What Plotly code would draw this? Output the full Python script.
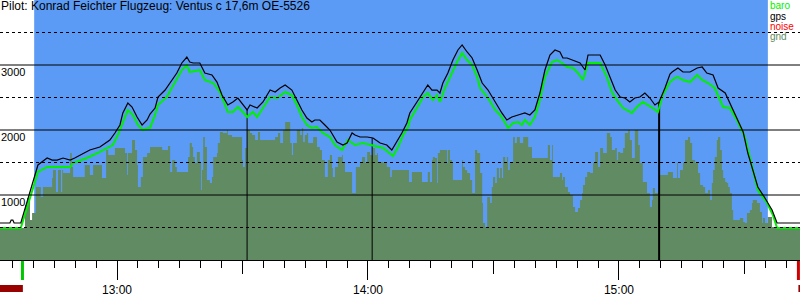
import plotly.graph_objects as go

# ---------------- data (time in minutes after 12:00, altitude in m) ----------------
title_text = "Pilot: Konrad Feichter Flugzeug: Ventus c 17,6m OE-5526"

gps_min = [32.0, 34.4, 34.7, 35.1, 35.4, 37.0, 41.1, 43.3, 44.5, 45.7, 47.1, 48.8, 49.9, 51.2, 53.5, 55.9,
           58.3, 59.5, 60.7, 61.4, 62.6, 63.6, 64.8, 66.0, 67.2, 67.9, 69.1, 69.8, 71.5, 74.3, 75.5, 76.7,
           77.4, 78.2, 79.8, 81.0, 82.7, 83.9, 85.1, 86.5, 87.7, 88.9, 90.1, 91.1, 91.8, 93.5, 94.9, 96.6,
           97.8, 99.0, 100.2, 101.8, 103.0, 104.2, 105.4, 106.6, 107.3, 108.5, 109.7, 110.9, 112.6, 114.0,
           115.0, 116.2, 116.9, 118.1, 119.8, 121.2, 122.9, 124.5, 125.7, 126.9, 128.1, 129.3, 130.0, 131.7,
           133.2, 134.3, 135.3, 136.5, 137.2, 137.9, 139.1, 140.3, 141.5, 142.5, 143.7, 144.9, 146.1, 147.3,
           148.7, 150.4, 152.0, 153.2, 154.4, 155.9, 157.5, 158.7, 159.9, 161.1, 162.3, 163.5, 164.7, 165.9,
           166.6, 167.6, 168.8, 170.0, 170.7, 171.9, 172.6, 173.8, 175.5, 176.7, 177.9, 179.1, 180.3, 181.4,
           182.6, 183.8, 185.0, 186.2, 187.4, 188.6, 189.6, 191.0, 192.2, 192.7, 194.1, 195.3, 197.0, 198.7,
           199.9, 201.0, 202.5, 203.7, 205.4, 207.0, 208.5, 209.7, 210.8, 212.0, 213.2, 214.9, 216.6, 217.8,
           223.3]
gps_alt = [569, 569, 615, 615, 569, 569, 1462, 1569, 1538, 1538, 1569, 1538, 1569, 1615, 1692, 1738,
           1846, 1954, 2077, 2262, 2415, 2354, 2200, 2077, 2154, 2246, 2338, 2508, 2615, 2877, 3031, 3123,
           3046, 3031, 3031, 2877, 2846, 2738, 2538, 2385, 2431, 2492, 2385, 2308, 2385, 2338, 2431, 2615,
           2585, 2646, 2692, 2615, 2462, 2308, 2185, 2123, 2154, 2154, 2077, 2000, 1815, 1769,
           1800, 1954, 1923, 1892, 1892, 1877, 1800, 1769, 1692, 1815, 1954, 2108, 2262, 2431,
           2585, 2692, 2615, 2615, 2569, 2723, 2877, 3077, 3231, 3308, 3200, 3108, 2923, 2723,
           2615, 2431, 2262, 2154, 2200, 2231, 2262, 2231, 2308, 2569, 2923, 3154, 3231, 3200,
           3108, 3108, 3077, 3046, 3031, 2923, 3154, 3154, 3154, 3000, 2800, 2615, 2508, 2492,
           2431, 2492, 2508, 2569, 2492, 2385, 2431, 2646, 2862, 2892, 2954, 2892, 2892, 2954,
           2969, 2877, 2846, 2646, 2569, 2354, 2154, 1969, 1646, 1385, 1123, 954, 769, 569,
           569]

baro_min = [32.0, 37.0, 41.1, 43.3, 45.7, 48.8, 49.5, 52.8, 55.9, 59.0, 60.2, 61.4, 62.6, 63.8, 65.0, 66.2,
            67.4, 67.9, 69.1, 69.8, 71.9, 75.5, 76.7, 77.4, 79.8, 81.0, 83.0, 84.6, 86.5, 87.7, 88.9, 90.1,
            91.1, 92.5, 93.5, 94.9, 96.6, 98.3, 100.2, 101.8, 103.0, 104.2, 105.4, 106.6, 107.8, 109.2,
            110.9, 112.1, 113.8, 115.2, 116.9, 118.8, 120.5, 122.2, 123.6, 124.8, 126.0, 127.2, 128.4,
            129.6, 130.0, 131.7, 133.2, 134.3, 135.5, 136.5, 137.2, 138.4, 139.6, 141.3, 142.5, 143.7,
            144.9, 146.1, 146.8, 148.7, 150.4, 151.6, 152.8, 153.5, 154.7, 155.9, 156.8, 157.5, 158.7,
            159.9, 161.1, 162.3, 164.0, 165.2, 166.4, 167.6, 169.0, 170.2, 171.4, 172.6, 173.8, 175.5,
            177.1, 178.3, 179.5, 181.0, 183.1, 184.3, 185.7, 186.9, 188.1, 189.3, 190.5, 192.2, 193.4,
            194.1, 195.3, 197.0, 198.7, 199.9, 201.3, 202.9, 204.9, 206.5, 208.2, 210.1, 211.8, 213.2,
            215.4, 216.8, 217.8, 223.3]
baro_alt = [492, 492, 1354, 1431, 1431, 1431, 1492, 1569, 1662, 1769, 1923, 2123, 2308, 2231, 2077, 2000,
            2031, 2031, 2231, 2385, 2508, 2923, 3000, 2892, 2923, 2769, 2723, 2585, 2277, 2277, 2354, 2277,
            2200, 2277, 2200, 2338, 2508, 2492, 2585, 2538, 2385, 2200, 2077, 2031, 2046, 1954,
            1892, 1769, 1692, 1846, 1769, 1800, 1769, 1738, 1723, 1662, 1600, 1738, 1923,
            2046, 2154, 2338, 2508, 2569, 2462, 2538, 2431, 2646, 2815, 3046, 3185, 3077,
            3000, 2815, 2646, 2492, 2308, 2231, 2108, 2031, 2108, 2123, 2077, 2154, 2077,
            2200, 2462, 2815, 3046, 3077, 3031, 2969, 2954, 2877, 2769, 3031, 3031, 3031,
            2815, 2585, 2462, 2338, 2262, 2354, 2431, 2385, 2338, 2277, 2538, 2738, 2800,
            2815, 2769, 2738, 2846, 2769, 2723, 2646, 2354, 2338, 2154, 1892, 1431, 1077,
            877, 692, 492, 492]

gnd_min = [32.0, 38.0, 38.5, 39.2, 39.7, 40.6, 41.8, 42.3, 44.5, 44.7, 45.4, 45.9, 46.6, 46.9, 47.1, 48.8,
           49.2, 49.5, 52.3, 53.5, 54.3, 56.4, 57.4, 57.9, 59.5, 61.9, 62.4, 62.6, 63.6, 64.3, 64.8, 65.0,
           65.7, 66.2, 67.2, 67.9, 70.8, 72.2, 72.7, 73.2, 73.9, 74.3, 77.0, 77.4, 77.9, 78.2, 78.6, 79.1,
           79.8, 80.1, 80.3, 80.6, 81.0, 81.5, 82.2, 82.7, 83.0, 83.9, 84.1, 84.6, 85.3, 86.3, 86.5, 87.5,
           89.9, 90.1, 90.6, 91.1, 91.8, 92.3, 93.0, 93.7, 94.2, 97.8, 98.5, 99.0, 99.7, 100.2, 101.4,
           101.8, 102.1, 103.0, 103.8, 104.2, 104.5, 104.9, 105.4, 105.7, 106.9, 107.8, 108.5, 109.0,
           109.7, 110.4, 110.9, 111.4, 111.6, 112.1, 112.8, 113.8, 114.0, 114.5, 116.2, 117.1, 118.1,
           118.6, 119.3, 119.8, 120.5, 121.2, 121.7, 122.2, 122.4, 123.6, 124.5, 125.3, 125.7, 129.8,
           130.5, 132.9, 134.3, 134.8, 135.3, 135.5, 136.0, 136.5, 136.7, 137.2, 138.9, 139.1, 139.6,
           140.1, 140.3, 142.5, 142.7, 143.2, 143.7, 144.4, 144.9, 145.6, 146.1, 146.8, 147.3, 147.5,
           148.0, 148.5, 149.2, 149.6, 149.9, 150.4, 150.8, 151.3, 151.6, 152.0, 152.3, 152.8, 153.2,
           153.5, 153.9, 154.7, 155.1, 155.6, 156.3, 157.1, 158.3, 159.2, 163.0, 163.5, 164.0, 164.2,
           165.9, 166.4, 166.6, 167.1, 167.8, 168.3, 169.0, 169.5, 170.2, 170.7, 171.2, 171.4, 171.9,
           172.4, 173.1, 173.8, 174.3, 175.0, 175.5, 176.2, 177.1, 177.9, 178.3, 179.1, 179.5, 179.8,
           180.3, 181.0, 181.4, 182.2, 182.6, 183.1, 183.8, 184.6, 185.0, 185.7, 186.7, 187.4, 187.9,
           188.1, 188.6, 189.6, 189.8, 191.7, 192.9, 193.9, 194.1, 194.6, 195.3, 195.8, 196.5, 197.0,
           197.5, 198.2, 198.9, 199.4, 200.1, 200.6, 201.3, 201.8, 202.2, 202.5, 202.9, 203.4, 203.7,
           204.2, 204.6, 204.9, 205.4, 205.8, 206.1, 206.5, 207.0, 207.3, 208.9, 209.7, 210.1, 210.6,
           211.3, 211.8, 212.0, 213.0, 213.7, 214.2, 214.4, 214.9, 215.6, 216.6, 217.3, 223.3]
gnd_alt = [492, 846, 954, 615, 723, 1123, 969, 1123, 1262, 1385, 1046, 1385, 1046, 1385, 1338, 1646,
           1431, 1277, 1462, 1308, 1462, 1262, 1692, 1615, 1723, 1646, 1308, 1646, 1846, 1692, 1462, 1123,
           1277, 1585, 1646, 1738, 1692, 1754, 1354, 1538, 1431, 1354, 1585, 1800, 1738, 1585, 1492, 1662,
           1492, 1077, 1385, 1892, 1738, 1231, 1185, 1277, 1585, 1646, 1800, 1969, 1954, 2000, 1923, 1892,
           1538, 1431, 1723, 2000, 1954, 1923, 1846, 1969, 1846, 1892, 1954, 1800, 2000, 2123, 1800,
           1615, 1800, 2000, 1923, 2031, 1815, 1923, 1954, 1800, 1892, 1738, 1692, 1538,
           1277, 1538, 1615, 1415, 1277, 1431, 1585, 1615, 1492, 1354, 1031, 1431, 1492,
           1585, 1492, 1662, 1615, 1723, 1615, 1646, 1508, 1492, 1431, 1277, 1385, 1200,
           1354, 1200, 1354, 1200, 1538, 1585, 1569, 1185, 1646, 1692, 1492, 1692, 1538,
           1492, 1231, 1538, 1431, 1385, 1338, 1231, 1031, 1692, 1646, 1338, 877, 569,
           508, 969, 877, 1123, 1277, 1185, 1415, 1262, 1415, 1262, 1585, 1492, 1585,
           1385, 1492, 1892, 1800, 1892, 1800, 1892, 1738, 1569, 1769, 1538, 1769, 1277,
           1338, 1231, 1277, 1123, 1046, 1000, 815, 738, 800, 923, 1031, 1154, 1277,
           1354, 1338, 1492, 1662, 1431, 1723, 1646, 1954, 1892, 1692, 1723, 1538, 1662,
           1646, 1723, 1954, 2000, 1846, 1569, 2000, 1769, 1492, 1200, 1031, 815, 923,
           1108, 1031, 1354, 1308, 1354, 1262, 1492, 1262, 1385, 1492, 1846, 1892, 1800,
           1538, 1492, 1338, 1154, 1123, 1031, 1077, 923, 1185, 1385, 1585, 1846, 1892,
           1692, 1385, 1262, 1200, 1185, 1123, 1031, 769, 615, 646, 585, 569, 723,
           769, 877, 923, 877, 738, 569, 646, 569, 662, 508, 492, 492]

mark_min = [91.1, 121.0, 189.6]       # vertical markers
mark_alt = [2308, 1877, 2431]

flight_window = [40.2, 215.6]         # shaded (blue) period
takeoff_min = 37.4
landing_min = 222.9
noise_bars = [[32.0, 37.5], [222.9, 223.3]]

hour_ticks = [60, 120, 180]
hour_labels = ["13:00", "14:00", "15:00"]
half_hour_ticks = [90, 150, 210]
grid_major = [1000, 2000, 3000]
grid_minor = [500, 1500, 2500, 3500]
legend_names = ["baro", "gps", "noise", "gnd"]

# ---------------- styles ----------------
FONT = "Liberation Sans, Arial, sans-serif"
BLUE = "#5b9bf5"
GND = "#618b62"
BARO = "#00f000"
legend_colors = ["#00f000", "#000000", "#ff0000", "#618b62"]
legend_centers = [5.5, 17, 27, 37]
mark_widths = [1, 1, 2]
XR = [32.03, 223.28]
PLOT_H = 260.0

fig = go.Figure()

fig.add_trace(go.Scatter(x=gnd_min, y=gnd_alt, mode="lines", line=dict(width=0, shape="hv"),
                         fill="tozeroy", fillcolor=GND, hoverinfo="skip", showlegend=False))
for t, a, w in zip(mark_min, mark_alt, mark_widths):
    fig.add_trace(go.Scatter(x=[t, t], y=[0, a], mode="lines", line=dict(color="black", width=w),
                             hoverinfo="skip", showlegend=False))
fig.add_trace(go.Scatter(x=baro_min, y=baro_alt, mode="lines", line=dict(color=BARO, width=2),
                         showlegend=False))
fig.add_trace(go.Scatter(x=gps_min, y=gps_alt, mode="lines", line=dict(color="black", width=1.2),
                         showlegend=False))
# helper traces so overlay tick axes are drawn
fig.add_trace(go.Scatter(x=XR, y=[0, 0], xaxis="x2", mode="lines", line=dict(width=0),
                         hoverinfo="skip", showlegend=False))
fig.add_trace(go.Scatter(x=XR, y=[0, 0], xaxis="x3", mode="lines", line=dict(width=0),
                         hoverinfo="skip", showlegend=False))

shapes = [dict(type="rect", xref="x", yref="paper", x0=flight_window[0], x1=flight_window[1],
               y0=0, y1=1, fillcolor=BLUE, line=dict(width=0), layer="below")]
for v in grid_major:
    shapes.append(dict(type="line", xref="paper", yref="y", x0=0, x1=1, y0=v, y1=v,
                       line=dict(color="black", width=1), layer="above"))
for v in grid_minor:
    shapes.append(dict(type="line", xref="paper", yref="y", x0=0, x1=1, y0=v, y1=v,
                       line=dict(color="black", width=1, dash="3px,3px"), layer="above"))
shapes.append(dict(type="line", xref="x", yref="paper", x0=takeoff_min, x1=takeoff_min,
                   y0=-1 / PLOT_H, y1=-20 / PLOT_H, line=dict(color="#00c800", width=3)))
shapes.append(dict(type="line", xref="x", yref="paper", x0=landing_min, x1=landing_min,
                   y0=-1 / PLOT_H, y1=-20 / PLOT_H, line=dict(color="#d00000", width=3)))
for a, b in noise_bars:
    shapes.append(dict(type="rect", xref="x", yref="paper", x0=a, x1=b,
                       y0=-25 / PLOT_H, y1=-32 / PLOT_H, fillcolor="#990000", line=dict(width=0)))

annotations = [dict(text=title_text, xref="paper", yref="paper", x=0, y=1 - 6 / PLOT_H,
                    xanchor="left", yanchor="middle", showarrow=False,
                    font=dict(family=FONT, size=12, color="black"), borderpad=0)]
for name, col, c in zip(legend_names, legend_colors, legend_centers):
    annotations.append(dict(text=name, xref="paper", yref="paper", x=769 / 800, y=1 - c / PLOT_H,
                            xanchor="left", yanchor="middle", showarrow=False,
                            font=dict(family=FONT, size=10, color=col), borderpad=0))
for v in grid_major:
    annotations.append(dict(text=str(v), xref="paper", yref="y", x=0, y=v, xanchor="left",
                            yanchor="middle", yshift=-7, showarrow=False, borderpad=0,
                            font=dict(family=FONT, size=11, color="black")))

axis_common = dict(range=XR, showgrid=False, zeroline=False, fixedrange=True)
fig.update_layout(
    width=800, height=300, margin=dict(l=0, r=0, t=0, b=40),
    paper_bgcolor="white", plot_bgcolor="white", showlegend=False,
    xaxis=dict(**axis_common, tickmode="array", tickvals=hour_ticks, ticktext=hour_labels,
               ticks="outside", ticklen=19, tickwidth=1, tickcolor="black",
               showline=True, linecolor="black", linewidth=1,
               tickfont=dict(family=FONT, size=12, color="black")),
    xaxis2=dict(**axis_common, overlaying="x", anchor="y", side="bottom", tickmode="array",
                tickvals=half_hour_ticks, ticks="outside", ticklen=13, tickwidth=1,
                tickcolor="black", showticklabels=False, showline=False),
    xaxis3=dict(**axis_common, overlaying="x", anchor="y", side="bottom", tickmode="linear",
                tick0=0, dtick=5, ticks="outside", ticklen=7, tickwidth=1,
                tickcolor="black", showticklabels=False, showline=False),
    yaxis=dict(range=[0, 4000], showgrid=False, zeroline=False, showticklabels=False,
               ticks="", fixedrange=True),
    shapes=shapes, annotations=annotations,
)

fig.write_html("out.html")
